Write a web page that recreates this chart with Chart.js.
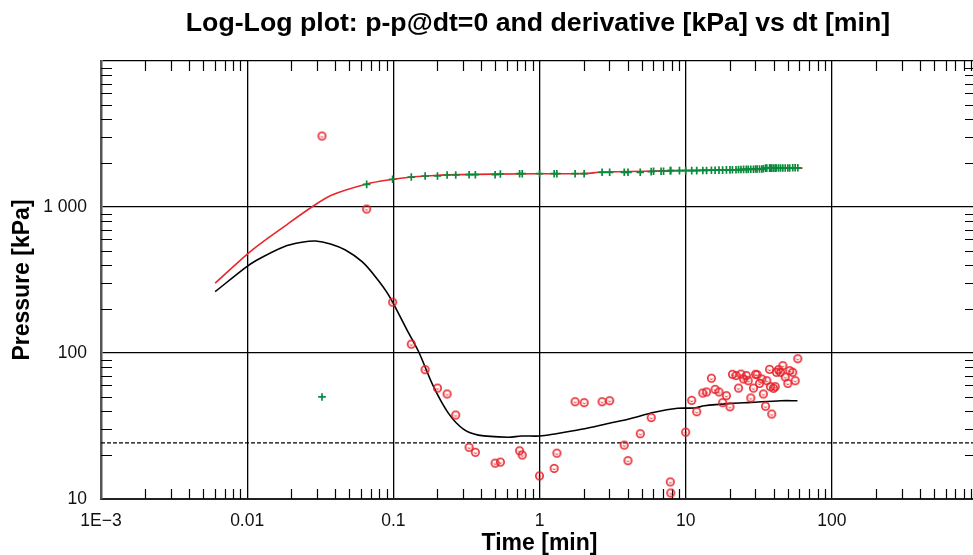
<!DOCTYPE html>
<html><head><meta charset="utf-8">
<script src="https://cdn.jsdelivr.net/npm/chart.js@4.4.1/dist/chart.umd.min.js"></script>
<style>
html,body{margin:0;padding:0;overflow:hidden;background:#fff;width:973px;height:555px}
#wrap{position:relative;width:990px;height:555px}
#title{position:absolute;left:538px;top:7px;transform:translateX(-50%);white-space:nowrap;font:bold 26.7px 'Liberation Sans',Arial,sans-serif;line-height:30px;color:#000}
canvas{display:block}
</style></head><body>
<div id="wrap"><div id="title">Log-Log plot: p-p@dt=0 and derivative [kPa] vs dt [min]</div>
<canvas id="c" width="990" height="555"></canvas></div>
<script>
// ---- tick labels ----
const xTickValues = [0.001, 0.01, 0.1, 1, 10, 100, 1000];
const xTickLabels = ['1E\u22123', '0.01', '0.1', '1', '10', '100', ''];
const yTickValues = [10, 100, 1000, 10000];
const yTickLabels = ['10', '100', '1 000', ''];
const dashedLevel = 24.2;

// ---- measured data: time [min], p-p@dt=0 [kPa], derivative [kPa] ----
const measTime = [0.0325, 0.0657, 0.0989, 0.1327, 0.165, 0.2004, 0.2333, 0.2673, 0.33, 0.364,
  0.497, 0.54, 0.731, 0.762, 1.0, 1.26, 1.315, 1.752, 2.02, 2.68,
  3.02, 3.8, 4.03, 4.89, 5.81, 6.03, 6.79, 7.06, 7.85, 7.91,
  9.07, 10.0, 11.0, 11.9, 13.1, 13.9, 15.0, 15.9, 16.9, 17.9,
  19.0, 20.1, 20.9, 22.1, 23.0, 23.9, 24.9, 26.0, 26.8, 27.9,
  29.1, 30.1, 30.8, 32.0, 33.2, 34.0, 35.2, 35.9, 37.5, 38.0,
  38.8, 39.9, 41.0, 41.8, 43.2, 44.6, 46.2, 48.0, 50.0, 51.5,
  54.0, 56.1, 58.5];
const measPressure = [50, 1429, 1549, 1604, 1630, 1630, 1656, 1656, 1664, 1664,
  1664, 1683, 1691, 1691, 1691, 1691, 1691, 1691, 1691, 1729,
  1729, 1729, 1729, 1729, 1746, 1757, 1757, 1757, 1774, 1774,
  1774, 1774, 1774, 1774, 1780, 1780, 1785, 1785, 1790, 1790,
  1795, 1795, 1800, 1800, 1805, 1805, 1810, 1810, 1815, 1815,
  1815, 1820, 1820, 1820, 1820, 1830, 1845, 1845, 1845, 1845,
  1845, 1845, 1845, 1850, 1850, 1850, 1850, 1850, 1850, 1850,
  1855, 1855, 1855];
const measDerivative = [3062, 968, 223, 115, 76.9, 57.5, 52.4, 37.6, 22.6, 20.9,
  17.6, 17.9, 21.4, 20.0, 14.4, 16.2, 20.6, 46.4, 45.7, 46.4,
  47.1, 23.4, 18.3, 28.0, 36.1, null, null, null, 13.1, 11.0,
  null, 28.7, 47.4, 39.6, 53.2, 54.1, 67.2, 56.4, 54.1, 45.7,
  51.0, 42.8, 71.5, 70.0, 57.5, 71.7, 66.4, 70.0, 64.6, 49.2,
  57.5, 71.5, 71.0, 61.9, 66.4, 52.4, 43.2, 64.6, 77.3, 58.8,
  38.2, 57.3, 58.8, 73.8, 76.9, 73.8, 81.9, 68.5, 61.9, 75.7,
  73.8, 64.6, 91.4];

// ---- model curves ----
const pressModelTime = [0.00604, 0.0108, 0.0193, 0.0277, 0.038, 0.0657, 0.0927, 0.139, 0.173, 0.228,
  0.98, 2.05, 2.64, 8.83, 15.8, 34.0, 34.6, 63];
const pressModelValue = [301, 507, 776, 1000, 1208, 1438, 1532, 1610, 1630, 1660,
  1690, 1692, 1735, 1774, 1791, 1815, 1841, 1845];
const derivModelTime = [0.00604, 0.00978, 0.01168, 0.01786, 0.02368, 0.02938, 0.0372, 0.047, 0.0611, 0.0754,
  0.0929, 0.1239, 0.149, 0.1884, 0.2385, 0.3017, 0.382, 0.611, 0.75, 1.006,
  1.273, 1.934, 3.1, 4.03, 6.12, 8.83, 11.48, 13.43, 20.4, 27.9, 44.7, 58.2];
const derivModelValue = [263, 386, 434, 535, 573, 585, 558, 507, 422, 333,
  249, 144, 102, 58.8, 38.6, 30.1, 27.4, 26.5, 27.0, 27.0,
  27.9, 30.0, 33.3, 35.2, 39.3, 41.8, 42.0, 43.5, 45.2, 45.9, 47.1, 47.1];

const toXY = (xs, ys) => xs.map((x, i) => ({ x: x, y: ys[i] }));
const xMin = xTickValues[0], xMax = xTickValues[xTickValues.length - 1];

function ringImage() {
  const c = document.createElement('canvas');
  c.width = 11; c.height = 11;
  const g = c.getContext('2d');
  g.strokeStyle = '#e6222a';
  g.lineWidth = 1.6;
  g.beginPath(); g.arc(5.5, 5.5, 3.7, 0, Math.PI * 2); g.stroke();
  g.lineWidth = 1.0;
  g.beginPath(); g.arc(5.5, 5.1, 1.5, 0.1 * Math.PI, 0.9 * Math.PI); g.stroke();
  return c;
}

const minorTicks = {
  id: 'minorTicks',
  beforeDatasetsDraw(chart) {
    const { ctx, chartArea: a, scales: { x, y } } = chart;
    ctx.save();
    ctx.strokeStyle = '#000';
    ctx.lineWidth = 1.2;
    ctx.beginPath();
    for (let e = -3; e < 3; e++) for (let k = 2; k <= 9; k++) {
      const px = Math.round(x.getPixelForValue(k * Math.pow(10, e))) + 0.5;
      ctx.moveTo(px, a.bottom); ctx.lineTo(px, a.bottom - 10);
      ctx.moveTo(px, a.top); ctx.lineTo(px, a.top + 10);
    }
    for (let e = 1; e < 4; e++) for (let k = 2; k <= 9; k++) {
      const py = Math.round(y.getPixelForValue(k * Math.pow(10, e))) + 0.5;
      ctx.moveTo(a.left, py); ctx.lineTo(a.left + 11, py);
      ctx.moveTo(a.right, py); ctx.lineTo(a.right - 13, py);
    }
    ctx.stroke();
    ctx.restore();
  }
};

const FONT = "'Liberation Sans', Arial, sans-serif";

new Chart(document.getElementById('c'), {
  type: 'scatter',
  data: {
    datasets: [
      { label: 'derivative', data: toXY(measTime, measDerivative), pointStyle: ringImage(), pointRadius: 4, showLine: false },
      { label: 'pressure', data: toXY(measTime, measPressure), pointStyle: 'cross', pointRadius: 3.8, pointBorderWidth: 1.7, borderColor: '#0a8a3c', backgroundColor: '#0a8a3c', showLine: false },
      { label: 'pressure model', data: toXY(pressModelTime, pressModelValue), showLine: true, borderColor: '#e8262b', borderWidth: 1.6, pointRadius: 0, tension: 0.3 },
      { label: 'derivative model', data: toXY(derivModelTime, derivModelValue), showLine: true, borderColor: '#000', borderWidth: 1.6, pointRadius: 0, tension: 0.3 },
      { label: 'level', data: [{ x: xMin, y: dashedLevel }, { x: xMax, y: dashedLevel }], showLine: true, borderColor: '#000', borderWidth: 1.2, borderDash: [4, 2], pointRadius: 0 }
    ]
  },
  options: {
    responsive: false,
    animation: false,
    devicePixelRatio: 1,
    layout: { padding: { left: 0, right: 9, top: 61, bottom: 0 } },
    plugins: { legend: { display: false }, tooltip: { enabled: false }, title: { display: false } },
    scales: {
      x: {
        type: 'logarithmic', position: 'bottom', min: xMin, max: xMax,
        afterBuildTicks: s => { s.ticks = xTickValues.map(v => ({ value: v })); },
        afterFit: s => { s.height = 56; },
        ticks: {
          autoSkip: false, maxRotation: 0, padding: 12, color: '#111',
          font: { family: FONT, size: 17.5 },
          callback: v => { const i = xTickValues.indexOf(v); return i >= 0 ? xTickLabels[i] : ''; }
        },
        grid: { color: '#000', lineWidth: 1.3, drawTicks: false },
        border: { display: true, color: '#222', width: 2 },
        title: { display: true, text: 'Time [min]', color: '#000', padding: 0, font: { family: FONT, size: 23, weight: 'bold', lineHeight: 1.0 } }
      },
      y: {
        type: 'logarithmic', position: 'left', min: yTickValues[0], max: yTickValues[yTickValues.length - 1],
        afterBuildTicks: s => { s.ticks = yTickValues.map(v => ({ value: v })); },
        afterFit: s => { s.width = 101; },
        ticks: {
          autoSkip: false, padding: 14, color: '#111',
          font: { family: FONT, size: 17.5 },
          callback: v => { const i = yTickValues.indexOf(v); return i >= 0 ? yTickLabels[i] : ''; }
        },
        grid: { color: '#000', lineWidth: 1.3, drawTicks: false },
        border: { display: true, color: '#555', width: 2.5 },
        title: { display: true, text: 'Pressure [kPa]', color: '#000', padding: { top: 9, bottom: 0 }, font: { family: FONT, size: 23, weight: 'bold', lineHeight: 1.2 } }
      }
    }
  },
  plugins: [minorTicks]
});
</script>
</body></html>
